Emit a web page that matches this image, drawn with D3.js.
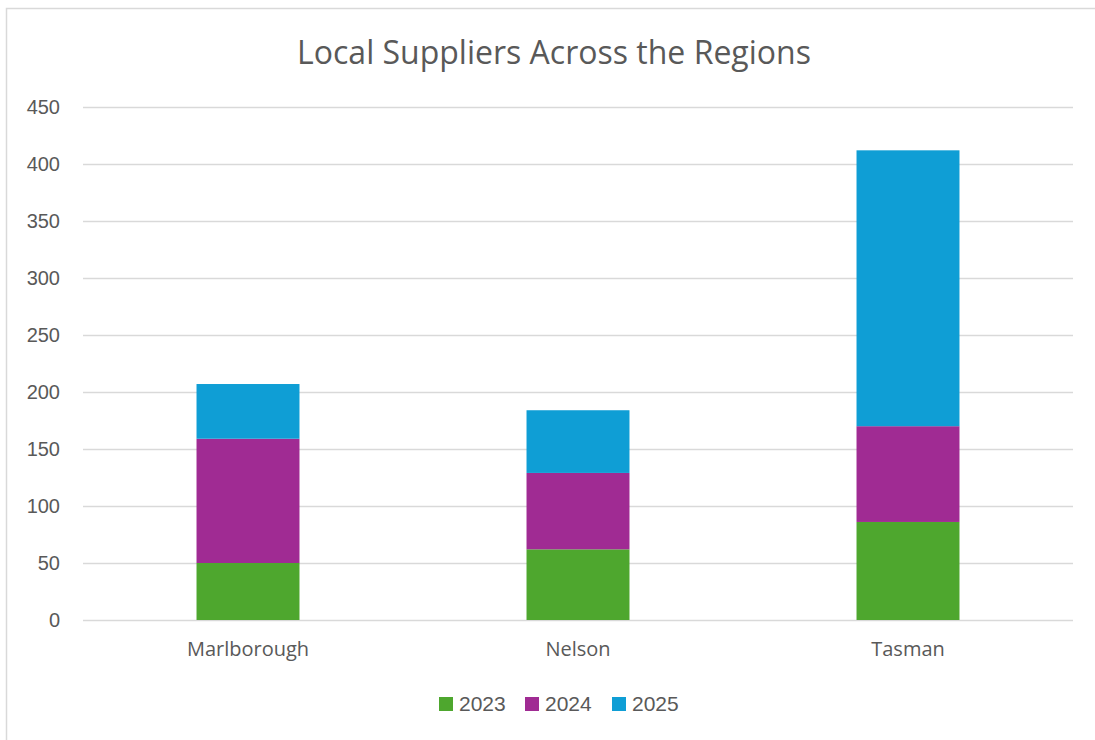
<!DOCTYPE html>
<html>
<head>
<meta charset="utf-8">
<script src="https://cdn.jsdelivr.net/npm/d3@7"></script>
<style>
  html, body { margin: 0; padding: 0; background: #fff; overflow: hidden; }
  svg { display: block; }
</style>
</head>
<body>
<div id="chart"></div>
<script>
// data
const regions = ['Marlborough', 'Nelson', 'Tasman'];
const years = ['2023', '2024', '2025'];
const values2023 = [50, 62, 86];
const values2024 = [109, 67, 84];
const values2025 = [48, 55, 242];
const yTicks = [0, 50, 100, 150, 200, 250, 300, 350, 400, 450];

const colors = {'2023': '#4ea72e', '2024': '#a02b93', '2025': '#0f9ed5'};
const textColor = '#595959';
const gridColor = '#d9d9d9';

const width = 1095;
const height = 740;
const margin = {top: 107, right: 22, bottom: 120, left: 83};
const innerWidth = width - margin.left - margin.right;
const innerHeight = 620 - margin.top;

const svg = d3.select('#chart')
    .append('svg')
    .attr('width', width)
    .attr('height', height);

// outer chart border, only left and top are inside the picture
svg.append('path')
    .attr('d', `M6.5,${height} V8.5 H${width}`)
    .attr('fill', 'none')
    .attr('stroke', gridColor)
    .attr('stroke-width', 1.5);

svg.append('text')
    .attr('x', 554)
    .attr('y', 64)
    .attr('text-anchor', 'middle')
    .style('font-family', '"Open Sans", sans-serif')
    .style('font-size', '32px')
    .attr('fill', textColor)
    .text('Local Suppliers Across the Regions');

const g = svg.append('g')
    .attr('transform', `translate(${margin.left},${margin.top})`);

const xScale = d3.scaleBand()
    .domain(regions)
    .range([0, innerWidth])
    .paddingInner(0.688)
    .paddingOuter(0.344);

const yScale = d3.scaleLinear()
    .domain([0, 450])
    .range([innerHeight, 0]);

// gridlines + y labels
g.append('g')
    .call(d3.axisLeft(yScale).tickValues(yTicks).tickSize(-innerWidth).tickPadding(23))
    .call(a => a.select('.domain').remove())
    .call(a => a.selectAll('.tick line').attr('stroke', gridColor).attr('stroke-width', 1.3))
    .call(a => a.selectAll('.tick text')
        .attr('fill', textColor)
        .style('font-family', '"Liberation Sans", Arial, sans-serif')
        .style('font-size', '20px'));

const series = regions.map((r, i) => ({
    region: r, '2023': values2023[i], '2024': values2024[i], '2025': values2025[i]
}));
const stacked = d3.stack().keys(years)(series);

g.selectAll('.layer')
    .data(stacked)
    .join('g')
    .attr('class', 'layer')
    .attr('fill', d => colors[d.key])
    .selectAll('rect')
    .data(d => d)
    .join('rect')
    .attr('x', d => xScale(d.data.region))
    .attr('y', d => yScale(d[1]))
    .attr('width', xScale.bandwidth())
    .attr('height', d => yScale(d[0]) - yScale(d[1]));

// category labels
g.append('g')
    .attr('transform', `translate(0,${innerHeight})`)
    .call(d3.axisBottom(xScale).tickSize(0).tickPadding(22))
    .call(a => a.select('.domain').remove())
    .call(a => a.selectAll('.tick text')
        .attr('fill', textColor)
        .style('font-family', '"Open Sans", sans-serif')
        .style('font-size', '20px'));

// legend
const legendX = [439, 525, 612];
const legend = svg.append('g');
years.forEach((y, i) => {
    legend.append('rect')
        .attr('x', legendX[i])
        .attr('y', 697)
        .attr('width', 14)
        .attr('height', 14)
        .attr('fill', colors[y]);
    legend.append('text')
        .attr('x', legendX[i] + 20)
        .attr('y', 711)
        .attr('fill', textColor)
        .style('font-family', '"Liberation Sans", Arial, sans-serif')
        .style('font-size', '21px')
        .text(y);
});
</script>
</body>
</html>
